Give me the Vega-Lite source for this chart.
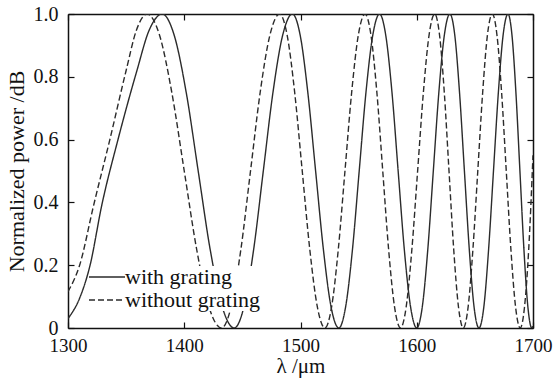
{
  "$schema": "https://vega.github.io/schema/vega-lite/v6.json",
  "width": 465,
  "height": 314,
  "autosize": "none",
  "padding": {"left": 68, "top": 14, "right": 25, "bottom": 51},
  "background": "white",
  "config": {
    "view": {"stroke": null},
    "font": "Liberation Serif",
    "axis": {
      "grid": false,
      "domainColor": "#111",
      "domainWidth": 1.5,
      "tickColor": "#111",
      "tickWidth": 1.2,
      "tickSize": -6,
      "labelColor": "#111",
      "labelFont": "Liberation Serif",
      "labelFontSize": 20,
      "titleColor": "#111",
      "titleFont": "Liberation Serif",
      "titleFontSize": 22,
      "titleFontWeight": "normal"
    }
  },
  "data": {
    "values": [
      {"lam": 1300, "p": 0.03, "s": "with grating"},
      {"lam": 1310, "p": 0.095, "s": "with grating"},
      {"lam": 1319, "p": 0.2, "s": "with grating"},
      {"lam": 1329, "p": 0.39, "s": "with grating"},
      {"lam": 1343, "p": 0.6, "s": "with grating"},
      {"lam": 1359, "p": 0.816, "s": "with grating"},
      {"lam": 1370, "p": 0.95, "s": "with grating"},
      {"lam": 1381, "p": 1.0, "s": "with grating"},
      {"lam": 1391.3, "p": 0.933, "s": "with grating"},
      {"lam": 1401.7, "p": 0.75, "s": "with grating"},
      {"lam": 1412, "p": 0.5, "s": "with grating"},
      {"lam": 1422.3, "p": 0.25, "s": "with grating"},
      {"lam": 1432.7, "p": 0.067, "s": "with grating"},
      {"lam": 1443, "p": 0.0, "s": "with grating"},
      {"lam": 1451.3, "p": 0.067, "s": "with grating"},
      {"lam": 1459.7, "p": 0.25, "s": "with grating"},
      {"lam": 1468, "p": 0.5, "s": "with grating"},
      {"lam": 1476.3, "p": 0.75, "s": "with grating"},
      {"lam": 1484.7, "p": 0.933, "s": "with grating"},
      {"lam": 1493, "p": 1.0, "s": "with grating"},
      {"lam": 1499.7, "p": 0.933, "s": "with grating"},
      {"lam": 1506.3, "p": 0.75, "s": "with grating"},
      {"lam": 1513, "p": 0.5, "s": "with grating"},
      {"lam": 1519.7, "p": 0.25, "s": "with grating"},
      {"lam": 1526.3, "p": 0.067, "s": "with grating"},
      {"lam": 1533, "p": 0.0, "s": "with grating"},
      {"lam": 1538.8, "p": 0.067, "s": "with grating"},
      {"lam": 1544.7, "p": 0.25, "s": "with grating"},
      {"lam": 1550.5, "p": 0.5, "s": "with grating"},
      {"lam": 1556.3, "p": 0.75, "s": "with grating"},
      {"lam": 1562.2, "p": 0.933, "s": "with grating"},
      {"lam": 1568, "p": 1.0, "s": "with grating"},
      {"lam": 1573.3, "p": 0.933, "s": "with grating"},
      {"lam": 1578.7, "p": 0.75, "s": "with grating"},
      {"lam": 1584, "p": 0.5, "s": "with grating"},
      {"lam": 1589.3, "p": 0.25, "s": "with grating"},
      {"lam": 1594.7, "p": 0.067, "s": "with grating"},
      {"lam": 1600, "p": 0.0, "s": "with grating"},
      {"lam": 1604.75, "p": 0.067, "s": "with grating"},
      {"lam": 1609.5, "p": 0.25, "s": "with grating"},
      {"lam": 1614.25, "p": 0.5, "s": "with grating"},
      {"lam": 1619, "p": 0.75, "s": "with grating"},
      {"lam": 1623.75, "p": 0.933, "s": "with grating"},
      {"lam": 1628.5, "p": 1.0, "s": "with grating"},
      {"lam": 1632.7, "p": 0.933, "s": "with grating"},
      {"lam": 1636.8, "p": 0.75, "s": "with grating"},
      {"lam": 1641, "p": 0.5, "s": "with grating"},
      {"lam": 1645.2, "p": 0.25, "s": "with grating"},
      {"lam": 1649.3, "p": 0.067, "s": "with grating"},
      {"lam": 1653.5, "p": 0.0, "s": "with grating"},
      {"lam": 1657.7, "p": 0.067, "s": "with grating"},
      {"lam": 1661.8, "p": 0.25, "s": "with grating"},
      {"lam": 1666, "p": 0.5, "s": "with grating"},
      {"lam": 1670.2, "p": 0.75, "s": "with grating"},
      {"lam": 1674.3, "p": 0.933, "s": "with grating"},
      {"lam": 1678.5, "p": 1.0, "s": "with grating"},
      {"lam": 1681.9, "p": 0.933, "s": "with grating"},
      {"lam": 1685.3, "p": 0.75, "s": "with grating"},
      {"lam": 1688.75, "p": 0.5, "s": "with grating"},
      {"lam": 1692.2, "p": 0.25, "s": "with grating"},
      {"lam": 1695.6, "p": 0.067, "s": "with grating"},
      {"lam": 1699, "p": 0.0, "s": "with grating"},
      {"lam": 1700, "p": 0.006, "s": "with grating"},

      {"lam": 1300, "p": 0.116, "s": "without grating"},
      {"lam": 1310, "p": 0.2, "s": "without grating"},
      {"lam": 1322, "p": 0.39, "s": "without grating"},
      {"lam": 1336, "p": 0.6, "s": "without grating"},
      {"lam": 1350, "p": 0.82, "s": "without grating"},
      {"lam": 1359, "p": 0.95, "s": "without grating"},
      {"lam": 1368, "p": 1.0, "s": "without grating"},
      {"lam": 1378.7, "p": 0.933, "s": "without grating"},
      {"lam": 1389.3, "p": 0.75, "s": "without grating"},
      {"lam": 1400, "p": 0.5, "s": "without grating"},
      {"lam": 1410.7, "p": 0.25, "s": "without grating"},
      {"lam": 1421.3, "p": 0.067, "s": "without grating"},
      {"lam": 1432, "p": 0.0, "s": "without grating"},
      {"lam": 1440.3, "p": 0.067, "s": "without grating"},
      {"lam": 1448.7, "p": 0.25, "s": "without grating"},
      {"lam": 1457, "p": 0.5, "s": "without grating"},
      {"lam": 1465.3, "p": 0.75, "s": "without grating"},
      {"lam": 1473.7, "p": 0.933, "s": "without grating"},
      {"lam": 1482, "p": 1.0, "s": "without grating"},
      {"lam": 1488.5, "p": 0.933, "s": "without grating"},
      {"lam": 1495, "p": 0.75, "s": "without grating"},
      {"lam": 1501.5, "p": 0.5, "s": "without grating"},
      {"lam": 1508, "p": 0.25, "s": "without grating"},
      {"lam": 1514.5, "p": 0.067, "s": "without grating"},
      {"lam": 1521, "p": 0.0, "s": "without grating"},
      {"lam": 1526.75, "p": 0.067, "s": "without grating"},
      {"lam": 1532.5, "p": 0.25, "s": "without grating"},
      {"lam": 1538.25, "p": 0.5, "s": "without grating"},
      {"lam": 1544, "p": 0.75, "s": "without grating"},
      {"lam": 1549.75, "p": 0.933, "s": "without grating"},
      {"lam": 1555.5, "p": 1.0, "s": "without grating"},
      {"lam": 1560.6, "p": 0.933, "s": "without grating"},
      {"lam": 1565.7, "p": 0.75, "s": "without grating"},
      {"lam": 1570.75, "p": 0.5, "s": "without grating"},
      {"lam": 1575.8, "p": 0.25, "s": "without grating"},
      {"lam": 1580.9, "p": 0.067, "s": "without grating"},
      {"lam": 1586, "p": 0.0, "s": "without grating"},
      {"lam": 1590.9, "p": 0.067, "s": "without grating"},
      {"lam": 1595.8, "p": 0.25, "s": "without grating"},
      {"lam": 1600.75, "p": 0.5, "s": "without grating"},
      {"lam": 1605.7, "p": 0.75, "s": "without grating"},
      {"lam": 1610.6, "p": 0.933, "s": "without grating"},
      {"lam": 1615.5, "p": 1.0, "s": "without grating"},
      {"lam": 1619.6, "p": 0.933, "s": "without grating"},
      {"lam": 1623.7, "p": 0.75, "s": "without grating"},
      {"lam": 1627.75, "p": 0.5, "s": "without grating"},
      {"lam": 1631.8, "p": 0.25, "s": "without grating"},
      {"lam": 1635.9, "p": 0.067, "s": "without grating"},
      {"lam": 1640, "p": 0.0, "s": "without grating"},
      {"lam": 1644.2, "p": 0.067, "s": "without grating"},
      {"lam": 1648.3, "p": 0.25, "s": "without grating"},
      {"lam": 1652.5, "p": 0.5, "s": "without grating"},
      {"lam": 1656.7, "p": 0.75, "s": "without grating"},
      {"lam": 1660.8, "p": 0.933, "s": "without grating"},
      {"lam": 1665, "p": 1.0, "s": "without grating"},
      {"lam": 1669, "p": 0.933, "s": "without grating"},
      {"lam": 1673, "p": 0.75, "s": "without grating"},
      {"lam": 1677, "p": 0.5, "s": "without grating"},
      {"lam": 1681, "p": 0.25, "s": "without grating"},
      {"lam": 1685, "p": 0.067, "s": "without grating"},
      {"lam": 1689, "p": 0.0, "s": "without grating"},
      {"lam": 1692.7, "p": 0.067, "s": "without grating"},
      {"lam": 1696.3, "p": 0.25, "s": "without grating"},
      {"lam": 1700, "p": 0.55, "s": "without grating"}
    ]
  },
  "layer": [
    {
      "mark": {"type": "line", "interpolate": "monotone", "color": "#2b2b2b", "strokeWidth": 1.4, "clip": true},
      "encoding": {
        "x": {
          "field": "lam", "type": "quantitative",
          "scale": {"domain": [1300, 1700], "nice": false, "zero": false},
          "axis": {"orient": "bottom", "values": [1300, 1400, 1500, 1600, 1700], "format": "d", "labelFontSize": 19, "labelPadding": 14, "title": "λ /μm", "titleFontSize": 21, "titlePadding": 0, "labelFlush": false}
        },
        "y": {
          "field": "p", "type": "quantitative",
          "scale": {"domain": [0, 1], "nice": false},
          "axis": {"orient": "left", "values": [0, 0.2, 0.4, 0.6, 0.8, 1.0], "labelPadding": 16, "labelExpr": "datum.value == 0 ? '0' : format(datum.value, '.1f')", "title": "Normalized power /dB", "titlePadding": 5}
        },
        "strokeDash": {
          "field": "s", "type": "nominal",
          "scale": {"domain": ["with grating", "without grating"], "range": [[1, 0], [6, 3]]},
          "legend": {
            "title": null,
            "orient": "none",
            "legendX": 28,
            "legendY": 252,
            "fillColor": "white",
            "padding": 0,
            "symbolType": "M-4,0H4",
            "symbolSize": 81,
            "symbolStrokeWidth": 1.4,
            "symbolStrokeColor": "#2b2b2b",
            "labelFont": "Liberation Serif",
            "labelFontSize": 22,
            "labelColor": "#111",
            "labelOffset": 7,
            "rowPadding": 1
          }
        }
      }
    },
    {
      "mark": {"type": "line", "opacity": 0},
      "encoding": {
        "x": {"field": "lam", "type": "quantitative", "axis": {"orient": "top", "values": [1300, 1400, 1500, 1600, 1700], "labels": false, "title": null}},
        "y": {"field": "p", "type": "quantitative", "axis": {"orient": "right", "values": [0, 0.2, 0.4, 0.6, 0.8, 1.0], "labels": false, "title": null}},
        "detail": {"field": "s", "type": "nominal"}
      }
    }
  ],
  "resolve": {"axis": {"x": "independent", "y": "independent"}}
}
